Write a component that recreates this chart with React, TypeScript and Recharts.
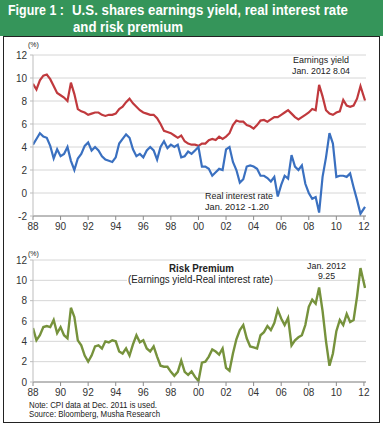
import React from 'react'
import { LineChart, Line, XAxis, YAxis, CartesianGrid } from 'recharts'

// Quarterly readings Q1 1988 .. Q4 2011, last point is Jan. 2012
const dates = [...Array.from({ length: 96 }, (_, i) => 1988 + i / 4), 2012.08]

const earningsYield = [
  9.5, 9.0, 9.8, 10.2, 10.3, 9.9, 9.3, 8.7, 8.5, 8.3, 8.0, 9.6,
  8.6, 7.3, 7.1, 7.0, 6.8, 6.9, 7.0, 7.0, 6.8, 6.7, 6.8, 6.8,
  6.9, 7.3, 7.5, 7.9, 8.2, 7.8, 7.5, 7.2, 7.0, 6.9, 6.8, 6.8,
  6.5, 6.0, 5.4, 5.3, 5.2, 5.0, 4.8, 5.0, 4.5, 4.3, 4.2, 4.2,
  4.1, 4.3, 4.3, 4.6, 4.7, 4.6, 4.9, 4.7, 4.9, 5.2, 5.9, 6.3,
  6.2, 6.2, 5.9, 5.8, 5.6, 5.9, 6.3, 6.35, 6.2, 6.4, 6.6, 6.6,
  6.8, 7.0, 7.2, 6.9, 6.6, 6.4, 6.6, 6.8, 7.0, 7.3, 7.2, 9.4,
  8.4, 7.2, 6.9, 6.8, 7.0, 7.1, 8.1, 7.6, 7.5, 7.6, 8.2, 9.3,
  8.04,
]

const realRate = [
  4.2, 4.7, 5.2, 4.9, 4.8, 4.1, 3.0, 3.8, 3.2, 3.4, 4.0, 2.8,
  2.0, 3.0, 3.4, 4.1, 4.4, 3.7, 4.0, 3.7, 3.2, 2.9, 2.8, 2.7,
  3.1, 4.3, 4.7, 5.1, 4.8, 3.8, 3.2, 3.4, 3.1, 3.7, 4.0, 3.7,
  2.9, 4.0, 4.5, 3.9, 4.2, 4.0, 4.2, 3.1, 3.2, 3.6, 3.4, 3.7,
  4.0, 2.3, 2.3, 2.1, 1.5, 1.8, 2.1, 2.0, 3.8, 4.0, 2.7, 2.0,
  0.9, 1.2, 2.3, 2.4, 2.3, 2.1, 1.5, 1.5, 1.3, 1.0, 1.4, -0.3,
  0.7, 1.5, 1.25, 3.3, 2.3, 2.0, 2.4, 0.8, 0.0, -0.5, -0.35, -1.7,
  1.4, 3.1, 5.2, 4.3, 1.4, 1.5, 1.5, 1.4, 1.7, 0.5, -0.6, -1.8,
  -1.2,
]

const riskPremium = [
  5.3, 4.1, 4.6, 5.4, 5.5, 5.4, 6.1, 4.8, 5.4, 4.6, 4.3, 7.3,
  6.4, 4.1, 3.6, 2.6, 2.0, 2.6, 3.5, 3.6, 3.3, 4.0, 3.9, 4.1,
  4.0, 3.0, 2.8, 3.3, 2.6, 3.7, 4.6, 3.9, 4.1, 3.3, 3.0, 3.5,
  2.5, 1.6, 1.5, 1.5, 1.0, 0.6, 1.0, 2.1, 1.0, 0.7, 1.05, 0.5,
  0.1, 1.9, 2.0, 2.5, 3.2, 3.0, 2.7, 3.3, 1.4, 1.1, 2.8, 4.2,
  5.1, 5.6, 4.3, 3.5, 3.4, 3.3, 4.6, 4.9, 5.5, 5.1, 5.8, 7.1,
  6.25, 5.6, 6.3, 3.6, 4.1, 4.4, 4.6, 5.6, 7.4, 8.1, 7.7, 9.3,
  7.0, 4.0, 1.6, 2.8, 5.0, 6.1, 5.6, 6.7, 5.9, 6.1, 8.4, 11.2,
  9.25,
]

const yearTicks = [1988, 1990, 1992, 1994, 1996, 1998, 2000, 2002, 2004, 2006, 2008, 2010, 2012]
const yearLabels = ['88', '90', '92', '94', '96', '98', '00', '02', '04', '06', '08', '10', '12']
const topTicks = [-2, 0, 2, 4, 6, 8, 10, 12]
const bottomTicks = [0, 2, 4, 6, 8, 10, 12]

const rows = dates.map((t, i) => ({
  t,
  ey: earningsYield[i],
  rr: realRate[i],
  rp: riskPremium[i],
}))

const FONT = '"Liberation Sans", Arial, sans-serif'
const tickStyle = { fill: '#333', fontSize: 10, fontFamily: FONT }
const fmtYear = (v: number) => yearLabels[yearTicks.indexOf(v)] ?? ''

export default function App() {
  return (
    <div style={{ position: 'relative', width: 386, height: 427, background: '#fff', fontFamily: FONT }}>
      <style>{'body{margin:0}'}</style>
      {/* title bar + frame */}
      <div style={{ position: 'absolute', left: 0, top: 0, width: 383, height: 36, background: '#35955a' }} />
      <div
        style={{
          position: 'absolute', left: 3, top: 36, width: 377, height: 387,
          border: '1.5px solid #222', boxSizing: 'border-box',
        }}
      />

      {/* upper chart: earnings yield vs real interest rate */}
      <div style={{ position: 'absolute', left: 0, top: 0 }}>
        <LineChart width={386} height={240} data={rows} margin={{ top: 55, right: 20, bottom: 4, left: 8 }}>
          <CartesianGrid vertical={false} stroke="#d6d6d6" />
          <XAxis
            dataKey="t" type="number" domain={[1988, 2012.15]} ticks={yearTicks} interval={0}
            tickFormatter={fmtYear} tick={tickStyle} height={20} tickSize={4} tickMargin={3}
            stroke="#8c8c8c" allowDataOverflow
          />
          <YAxis
            domain={[-2, 12]} ticks={topTicks} interval={0} tick={tickStyle} width={25}
            tickSize={3} tickMargin={3} stroke="#bdbdbd"
          />
          <Line dataKey="ey" type="linear" stroke="#c0393d" strokeWidth={2.2} dot={false} isAnimationActive={false} />
          <Line dataKey="rr" type="linear" stroke="#3a70c0" strokeWidth={2.2} dot={false} isAnimationActive={false} />
        </LineChart>
      </div>

      {/* lower chart: risk premium */}
      <div style={{ position: 'absolute', left: 0, top: 240 }}>
        <LineChart width={386} height={170} data={rows} margin={{ top: 20, right: 20, bottom: 8, left: 8 }}>
          <CartesianGrid vertical={false} stroke="#d6d6d6" />
          <XAxis
            dataKey="t" type="number" domain={[1988, 2012.15]} ticks={yearTicks} interval={0}
            tickFormatter={fmtYear} tick={tickStyle} height={20} tickSize={4} tickMargin={3}
            stroke="#8c8c8c" allowDataOverflow
          />
          <YAxis
            domain={[0, 12]} ticks={bottomTicks} interval={0} tick={tickStyle} width={25}
            tickSize={3} tickMargin={3} stroke="#bdbdbd"
          />
          <Line dataKey="rp" type="linear" stroke="#76923c" strokeWidth={2.4} dot={false} isAnimationActive={false} />
        </LineChart>
      </div>

      {/* texts */}
      <svg width={386} height={427} style={{ position: 'absolute', left: 0, top: 0, pointerEvents: 'none' }}>
        <g fill="#fff" fontWeight="bold" fontSize={15} fontFamily={FONT}>
          <text x={8} y={15} textLength={56} lengthAdjust="spacingAndGlyphs">Figure 1 :</text>
          <text x={72} y={15} textLength={276} lengthAdjust="spacingAndGlyphs">U.S. shares earnings yield, real interest rate</text>
          <text x={73} y={31.5} textLength={110} lengthAdjust="spacingAndGlyphs">and risk premium</text>
        </g>
        <g fill="#222" fontFamily={FONT}>
          <text x={28} y={47} fontSize={7}>(%)</text>
          <text x={28} y={255.5} fontSize={7}>(%)</text>

          <text x={293} y={62.5} fontSize={9.5} textLength={56} lengthAdjust="spacingAndGlyphs">Earnings yield</text>
          <text x={292} y={73.5} fontSize={9.5} textLength={58} lengthAdjust="spacingAndGlyphs">Jan. 2012 8.04</text>
          <text x={205} y={199} fontSize={9.5} textLength={68} lengthAdjust="spacingAndGlyphs">Real interest rate</text>
          <text x={205} y={209.5} fontSize={9.5} textLength={64} lengthAdjust="spacingAndGlyphs">Jan. 2012  -1.20</text>

          <text x={169} y={271.5} fontSize={11} fontWeight="bold" textLength={65} lengthAdjust="spacingAndGlyphs">Risk Premium</text>
          <rect x={127} y={273} width={147} height={12} fill="#fff" />
          <text x={128} y={282.5} fontSize={10.5} textLength={145} lengthAdjust="spacingAndGlyphs">(Earnings  yield-Real  interest rate)</text>
          <text x={307} y={269} fontSize={9.5} textLength={39} lengthAdjust="spacingAndGlyphs">Jan. 2012</text>
          <text x={318} y={279} fontSize={9.5} textLength={17} lengthAdjust="spacingAndGlyphs">9.25</text>

          <text x={29} y={407.5} fontSize={9} textLength={128} lengthAdjust="spacingAndGlyphs">Note: CPI  data at Dec. 2011 is used.</text>
          <text x={29} y={416.5} fontSize={9} textLength={131} lengthAdjust="spacingAndGlyphs">Source: Bloomberg, Musha Research</text>
        </g>
      </svg>
    </div>
  )
}
